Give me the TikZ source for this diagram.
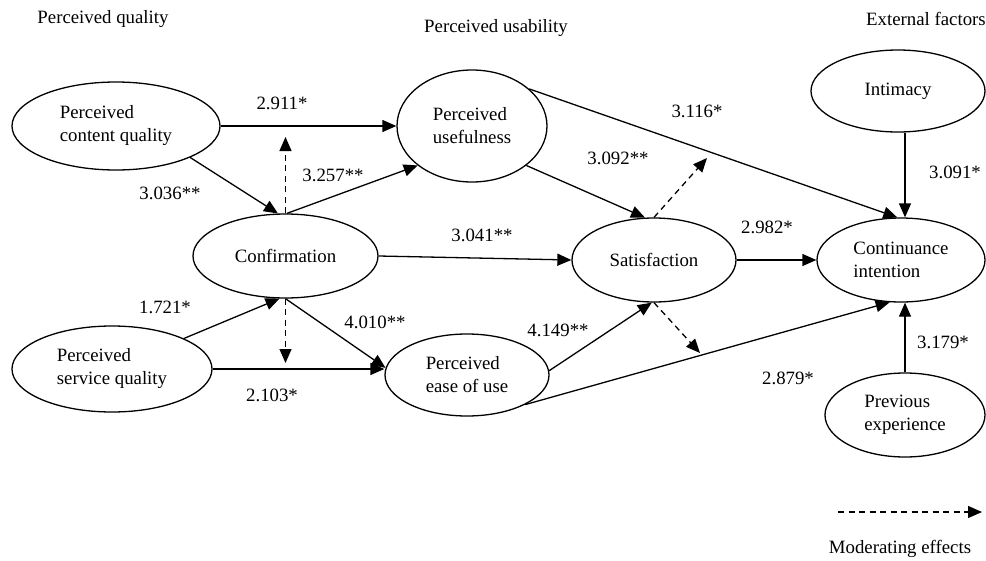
\documentclass[tikz,border=0pt]{standalone}
\usepackage{fontspec}
\setmainfont{Liberation Serif}
\usetikzlibrary{arrows.meta,shapes.geometric}
\begin{document}
\begin{tikzpicture}[x=1pt,y=-1pt,
  font=\fontsize{18.8}{23}\selectfont,
  ell/.style={draw, ellipse, line width=1.3pt, inner sep=0pt, align=left},
  arr/.style={line width=1.3pt, -{Triangle[length=14pt,width=12pt]}},
  modarr/.style={arr, dash pattern=on 6pt off 4.5pt},
  lbl/.style={inner sep=0pt}]
\useasboundingbox (0,0) rectangle (986,560);

% headers
\node[lbl] (hq) at (103,19) {Perceived quality};
\node[lbl] (hu) at (496,28) {Perceived usability};
\node[lbl] (he) at (926,19) {External factors};

% constructs
\node[ell, minimum width=208pt, minimum height=88pt] (pcq) at (116,126) {Perceived\\content quality};
\node[ell, minimum width=150pt, minimum height=112pt] (pu) at (472,126) {Perceived\\usefulness};
\node[ell, minimum width=185pt, minimum height=84pt] (conf) at (285.5,256) {Confirmation};
\node[ell, minimum width=200pt, minimum height=86pt] (psq) at (112,369) {Perceived\\service quality};
\node[ell, minimum width=164pt, minimum height=82pt] (peu) at (467,375) {Perceived\\ease of use};
\node[ell, minimum width=164pt, minimum height=84pt] (sat) at (654,260) {Satisfaction};
\node[ell, minimum width=168pt, minimum height=84pt] (ci) at (901,260) {Continuance\\intention};
\node[ell, minimum width=174pt, minimum height=82pt] (int) at (898,91) {Intimacy};
\node[ell, minimum width=160pt, minimum height=84pt] (pe) at (905,415) {Previous\\experience};

% moderating targets
\coordinate (mu) at (285.5,137);
\coordinate (md) at (285.5,363);
\coordinate (su) at (707,158);
\coordinate (sd) at (700,353);

% paths
\draw[arr] (pcq.east) -- (pu.west);
\draw[arr] (pcq.-23) -- (conf.100);
\draw[arr] (conf.88) -- (pu.216);
\draw[modarr] (conf.north) -- (mu);
\draw[arr] (psq.23) -- (conf.262);
\draw[arr] (psq.east) -- (psq.east -| peu.west);
\draw[arr] (conf.south) -- (peu.175);
\draw[modarr] (conf.south) -- (md);
\draw[arr] (conf.east) -- (sat.west);
\draw[arr] (pu.-36) -- (sat.102);
\draw[arr] (pu.33) -- (ci.95);
\draw[modarr] (sat.north) -- (su);
\draw[modarr] (sat.south) -- (sd);
\draw[arr] (peu.3) -- (sat.267);
\draw[arr] (peu.-27) -- (ci.255);
\draw[arr] (sat.east) -- (ci.west);
\draw[arr] (int.south -| pe.north) -- (ci.north -| pe.north);
\draw[arr] (pe.north) -- (pe.north |- ci.south);

% coefficients
\node[lbl] (c1) at (282,103) {2.911*};
\node[lbl] (c2) at (170,193) {3.036**};
\node[lbl] (c3) at (333,175) {3.257**};
\node[lbl] (c4) at (165,307) {1.721*};
\node[lbl] (c5) at (272,395) {2.103*};
\node[lbl] (c6) at (375,322) {4.010**};
\node[lbl] (c7) at (482,235) {3.041**};
\node[lbl] (c8) at (618,158) {3.092**};
\node[lbl] (c9) at (697,111) {3.116*};
\node[lbl] (c10) at (558,330) {4.149**};
\node[lbl] (c11) at (767,227) {2.982*};
\node[lbl] (c12) at (955,172) {3.091*};
\node[lbl] (c13) at (943,342) {3.179*};
\node[lbl] (c14) at (788,378) {2.879*};

% legend
\coordinate (lgs) at (838,512);
\coordinate (lge) at (982,512);
\draw[modarr] (lgs) -- (lge);
\node[lbl] (lgt) at (900,549) {Moderating effects};
\end{tikzpicture}
\end{document}
